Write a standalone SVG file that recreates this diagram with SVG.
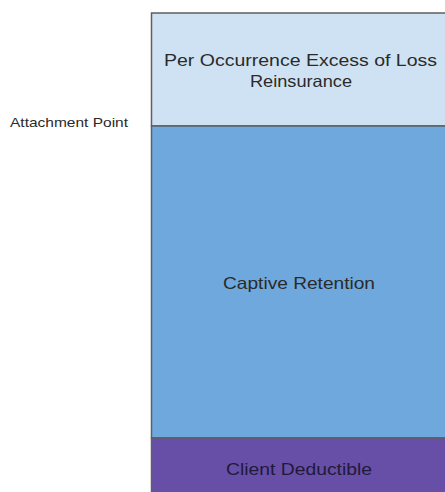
<svg xmlns="http://www.w3.org/2000/svg" width="445" height="492" viewBox="0 0 445 492">
<style>
.box{stroke:#5f5f5f;stroke-width:1.5}
.t{font-family:"Liberation Sans",Arial,sans-serif;font-size:16.5px;fill:#2a2a2a}
.s{font-family:"Liberation Sans",Arial,sans-serif;font-size:13px;fill:#2a2a2a}
</style>
<rect width="445" height="492" fill="#ffffff"/>
<g id="reinsurance">
<rect class="box" x="151.5" y="13" width="300" height="113" fill="#cfe2f3"/>
<text class="t" x="164" y="65.5" textLength="273" lengthAdjust="spacingAndGlyphs">Per Occurrence Excess of Loss</text>
<text class="t" x="250" y="86.5" textLength="102" lengthAdjust="spacingAndGlyphs">Reinsurance</text>
</g>
<g id="retention">
<rect class="box" x="151.5" y="126" width="300" height="312" fill="#6fa8dc"/>
<text class="t" x="223" y="288.5" textLength="152" lengthAdjust="spacingAndGlyphs">Captive Retention</text>
</g>
<g id="deductible">
<rect class="box" x="151.5" y="438" width="300" height="60" fill="#674ea7"/>
<text class="t" x="226" y="475" textLength="146" lengthAdjust="spacingAndGlyphs" style="fill:#1e1a3a">Client Deductible</text>
</g>
<g id="attachment">
<text class="s" x="10" y="126.5" textLength="118" lengthAdjust="spacingAndGlyphs">Attachment Point</text>
</g>
</svg>
